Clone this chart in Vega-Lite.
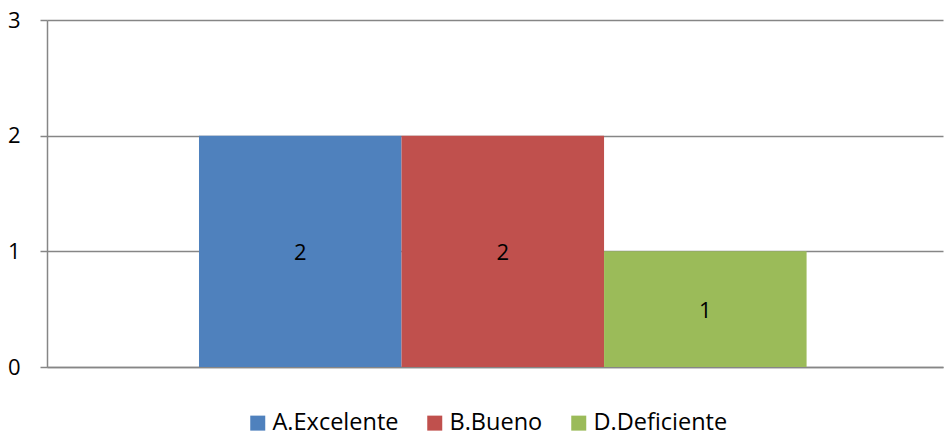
{
  "$schema": "https://vega.github.io/schema/vega-lite/v6.json",
  "width": 896,
  "height": 347,
  "autosize": "none",
  "padding": {"left": 47, "top": 20, "right": 2, "bottom": 69},
  "background": "white",
  "config": {
    "font": "Open Sans",
    "view": {"stroke": null}
  },
  "data": {
    "values": [
      {"serie": "A.Excelente", "value": 2},
      {"serie": "B.Bueno", "value": 2},
      {"serie": "D.Deficiente", "value": 1}
    ]
  },
  "transform": [{"calculate": "datum.value / 2", "as": "mid"}],
  "encoding": {
    "x": {
      "field": "serie",
      "type": "nominal",
      "scale": {"paddingInner": 0, "paddingOuter": 0.712, "align": 0.527},
      "axis": {
        "title": null,
        "labels": false,
        "ticks": false,
        "domainColor": "#868686",
        "domainWidth": 1.5
      }
    }
  },
  "layer": [
    {
      "mark": {"type": "bar"},
      "encoding": {
        "y": {
          "field": "value",
          "type": "quantitative",
          "scale": {"domain": [0, 3]},
          "axis": {
            "title": null,
            "values": [0, 1, 2, 3],
            "format": "d",
            "labelFontSize": 22,
            "labelColor": "#000000",
            "labelPadding": 20,
            "tickSize": 7,
            "tickColor": "#868686",
            "tickWidth": 1.5,
            "domainColor": "#868686",
            "domainWidth": 1.5,
            "gridColor": "#868686",
            "gridWidth": 1.3
          }
        },
        "color": {
          "field": "serie",
          "type": "nominal",
          "scale": {
            "domain": ["A.Excelente", "B.Bueno", "D.Deficiente"],
            "range": ["#4F81BD", "#C0504D", "#9BBB59"]
          },
          "legend": {
            "title": null,
            "orient": "none",
            "legendX": 199,
            "legendY": 391,
            "direction": "horizontal",
            "columns": 3,
            "symbolType": "square",
            "symbolSize": 225,
            "symbolStrokeWidth": 0,
            "labelFontSize": 23.5,
            "labelColor": "#000000",
            "labelOffset": 3,
            "columnPadding": 24,
            "labelLimit": 300
          }
        }
      }
    },
    {
      "mark": {"type": "text", "fontSize": 22, "color": "#000000", "dy": 2},
      "encoding": {
        "y": {"field": "mid", "type": "quantitative"},
        "text": {"field": "value", "type": "quantitative"}
      }
    }
  ]
}
